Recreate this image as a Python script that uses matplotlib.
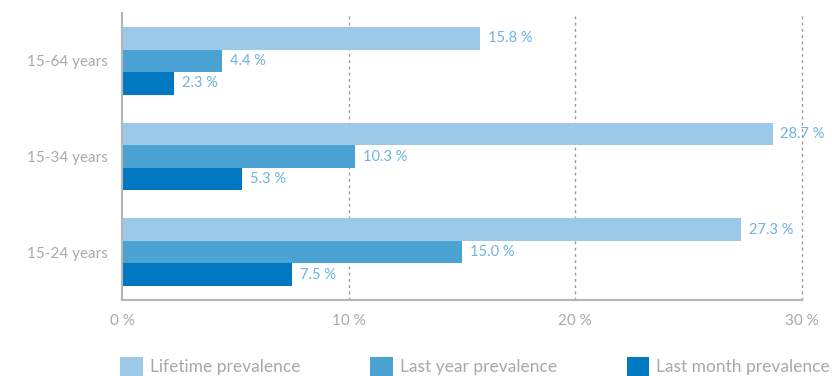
import numpy as np
import matplotlib.pyplot as plt

plt.rcParams['font.family'] = ['Lato', 'DejaVu Sans']

# Prevalence by age group (%)
groups = ['15-64 years', '15-34 years', '15-24 years']
lifetime = [15.8, 28.7, 27.3]
last_year = [4.4, 10.3, 15.0]
last_month = [2.3, 5.3, 7.5]
series_names = ['Lifetime prevalence', 'Last year prevalence', 'Last month prevalence']
colors = ['#9ACAE8', '#4BA3D4', '#0079C2']
xticks = [0, 10, 20, 30]

label_color = '#6DB3E3'
grey = '#A8A8A8'

fig = plt.figure(figsize=(8.32, 3.76), dpi=100)
ax = fig.add_axes([122 / 832, 1 - 300 / 376, 680 / 832, 287 / 376])

y = np.arange(len(groups))
h = 0.235
bars = []
for i, (vals, name, c) in enumerate(zip([lifetime, last_year, last_month], series_names, colors)):
    pos = y + (i - 1) * h
    b = ax.barh(pos, vals, height=h, color=c, label=name, zorder=2)
    bars.append(b)
    for p, v in zip(pos, vals):
        ax.text(v + 0.35, p, f'{v:.1f} %', va='center', ha='left',
                color=label_color, fontsize=10.5, zorder=3)

ax.set_ylim(2.5, -0.5)
ax.set_xlim(0, 30)
ax.set_yticks(y)
ax.set_yticklabels(groups, fontsize=11, color=grey)
ax.set_xticks(xticks)
ax.set_xticklabels([f'{t} %' for t in xticks], fontsize=11, color=grey)
ax.tick_params(length=0, pad=10)
ax.tick_params(axis='y', pad=10)

for t in xticks[1:]:
    ax.axvline(t, color='#999999', linestyle=(0, (2, 2.5)), linewidth=1,
               zorder=1, clip_on=False)

for s in ['top', 'right']:
    ax.spines[s].set_visible(False)
for s in ['left', 'bottom']:
    ax.spines[s].set_color('#B5B5B5')
    ax.spines[s].set_linewidth(1.5)

leg = fig.legend(handles=bars, labels=series_names, loc='lower left',
                 bbox_to_anchor=(122 / 832 - 0.002, 0.0), ncol=3, frameon=False,
                 fontsize=12.5, handlelength=1.32, handleheight=1.32,
                 handletextpad=0.4, columnspacing=4.0, borderpad=0, borderaxespad=0)
for t in leg.get_texts():
    t.set_color(grey)

fig.savefig('out.png', dpi=100)
